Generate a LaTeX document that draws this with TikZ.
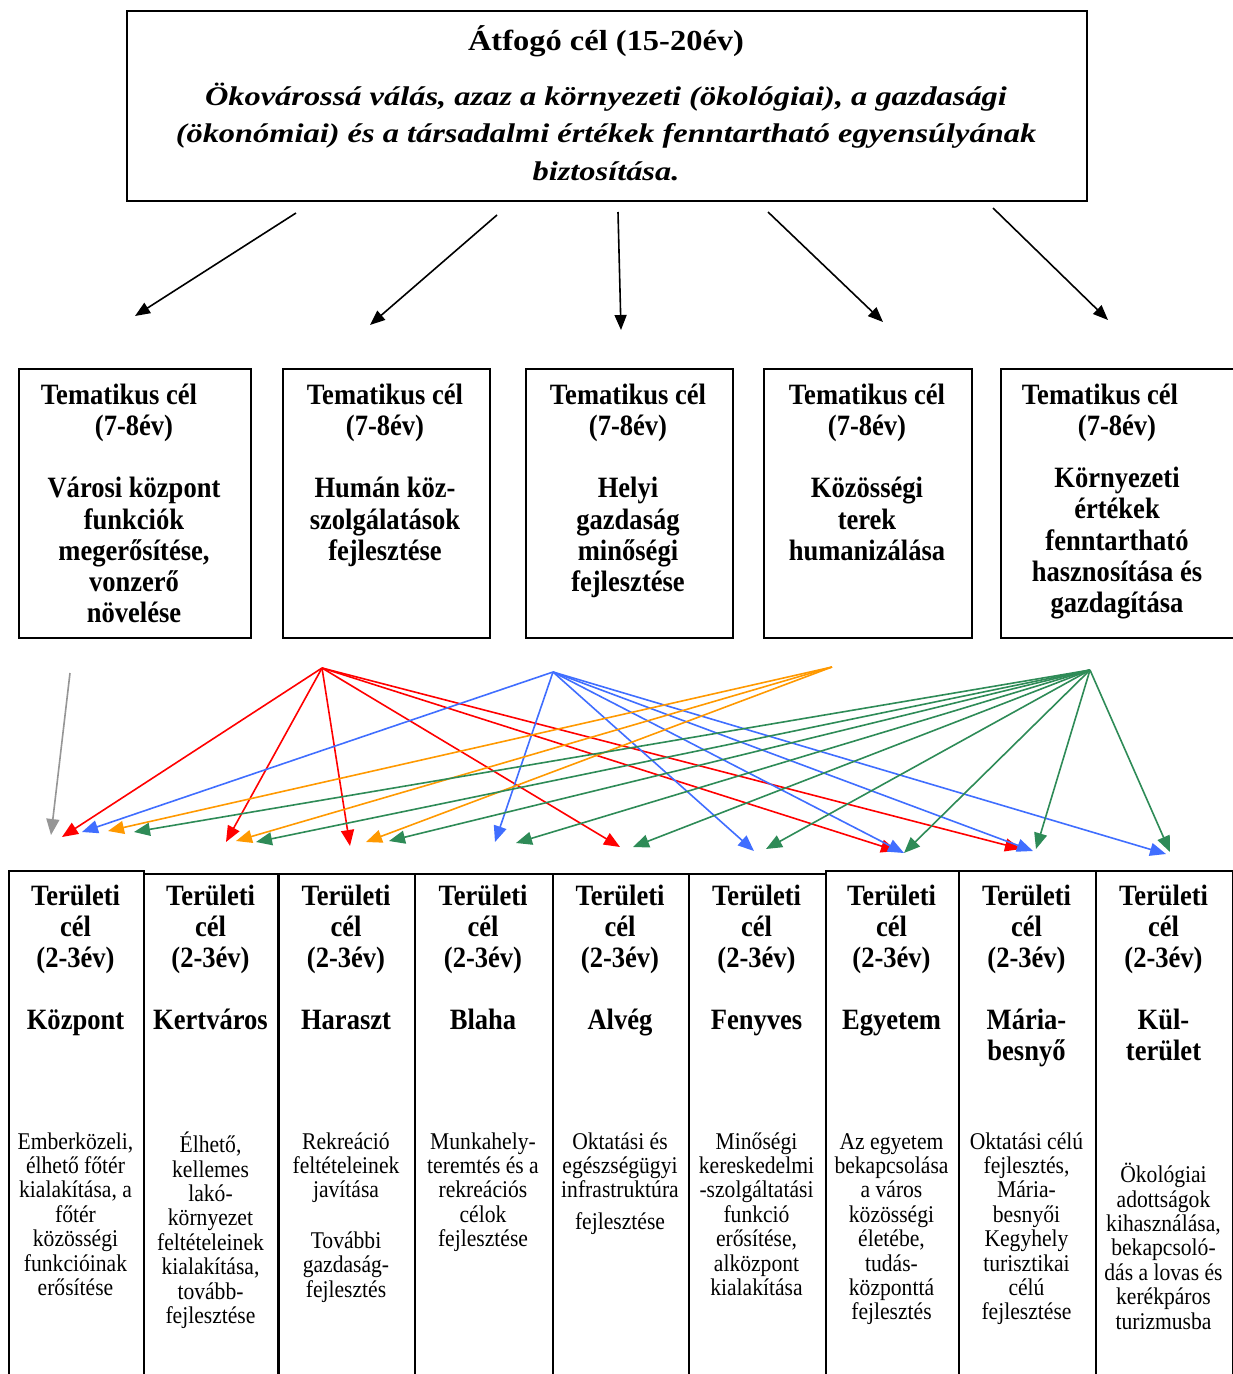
\documentclass[tikz,border=0pt]{standalone}
\usepackage{fontspec}
\setmainfont{Liberation Serif}[FakeStretch=0.9]
\newfontfamily\titlefont{Liberation Serif}[FakeStretch=1.12]
\newfontfamily\aimfont{Liberation Serif}[FakeStretch=1.2]
\usetikzlibrary{arrows.meta}
\definecolor{ared}{RGB}{255,0,0}
\definecolor{ablue}{RGB}{64,110,255}
\definecolor{aorange}{RGB}{255,153,0}
\definecolor{agreen}{RGB}{46,139,87}
\definecolor{agray}{RGB}{150,150,150}
\begin{document}
\begin{tikzpicture}[x=1pt,y=-1pt,
  box/.style={draw,line width=1.6pt,inner sep=0pt,anchor=north west},
  thtext/.style={anchor=north,align=center,inner sep=0pt,font=\fontsize{29.5}{31.2}\selectfont\bfseries},
  hdtext/.style={anchor=north,align=center,inner sep=0pt,font=\fontsize{29.5}{31}\selectfont\bfseries},
  dstext/.style={anchor=north,align=center,inner sep=0pt,font=\fontsize{24}{24.4}\selectfont},
  bigarrow/.style={-{Triangle[length=15pt,width=12pt]},line width=1.6pt,black},
  carrow/.style={-{Triangle[length=16pt,width=13pt]},line width=1.6pt},
]
\useasboundingbox[fill=white] (0,0) rectangle (1233,1374);

% top box
\node[box,minimum width=960pt,minimum height=190pt] (top) at (126,10) {};
\node[anchor=base,inner sep=0pt,font=\titlefont\bfseries\fontsize{29}{35}\selectfont] (title) at (606,50) {Átfogó cél (15-20év)};
\node[anchor=north,align=center,inner sep=0pt,font=\aimfont\bfseries\itshape\fontsize{27}{37.5}\selectfont] (aim) at (606,78.8)
 {\strut Ökovárossá válás, azaz a környezeti (ökológiai), a gazdasági\\(ökonómiai) és a társadalmi értékek fenntartható egyensúlyának\\biztosítása.};

% top arrows
\coordinate (a1s) at (296,213); \coordinate (a1e) at (135,316);
\coordinate (a2s) at (497,215); \coordinate (a2e) at (370,325);
\coordinate (a3s) at (618,212); \coordinate (a3e) at (621,330);
\coordinate (a4s) at (768,212); \coordinate (a4e) at (883,322);
\coordinate (a5s) at (993,208); \coordinate (a5e) at (1108,320);
\foreach \i in {1,...,5} {\draw[bigarrow] (a\i s) -- (a\i e);}

% thematic boxes
\node[box,minimum width=232pt,minimum height=269pt] (t1) at (18,368) {};
\node[box,minimum width=207pt,minimum height=269pt] (t2) at (282,368) {};
\node[box,minimum width=207pt,minimum height=269pt] (t3) at (525,368) {};
\node[box,minimum width=208pt,minimum height=269pt] (t4) at (763,368) {};
\node[box,minimum width=250pt,minimum height=269pt] (t5) at (1000,368) {};

\node[thtext] (tx1) at (134,382.2) {\strut Tematikus cél\rule{30pt}{0pt}\\(7-8év)\\[31.2pt]Városi központ\\funkciók\\megerősítése,\\vonzerő\\növelése};
\node[thtext] (tx2) at (385,382.2) {\strut Tematikus cél\\(7-8év)\\[31.2pt]Humán köz-\\szolgálatások\\fejlesztése};
\node[thtext] (tx3) at (628,382.2) {\strut Tematikus cél\\(7-8év)\\[31.2pt]Helyi\\gazdaság\\minőségi\\fejlesztése};
\node[thtext] (tx4) at (867,382.2) {\strut Tematikus cél\\(7-8év)\\[31.2pt]Közösségi\\terek\\humanizálása};
\node[thtext] (tx5) at (1117,382.2) {\strut Tematikus cél\rule{34pt}{0pt}\\(7-8év)\\[21pt]Környezeti\\értékek\\fenntartható\\hasznosítása és\\gazdagítása};

% bottom boxes
\node[box,minimum width=135pt,minimum height=520pt] (b1) at (8,870) {};
\node[box,minimum width=135pt,minimum height=520pt] (b2) at (143,873) {};
\node[box,minimum width=136pt,minimum height=520pt] (b3) at (278,873) {};
\node[box,minimum width=138pt,minimum height=520pt] (b4) at (414,873) {};
\node[box,minimum width=136pt,minimum height=520pt] (b5) at (552,873) {};
\node[box,minimum width=137pt,minimum height=520pt] (b6) at (688,873) {};
\node[box,minimum width=133pt,minimum height=520pt] (b7) at (825,870) {};
\node[box,minimum width=137pt,minimum height=520pt] (b8) at (958,870) {};
\node[box,minimum width=137pt,minimum height=520pt] (b9) at (1095,870) {};
\draw[line width=3pt] (b3.north west) -- (b3.south west);

\node[hdtext] (h1) at (75.5,883.3) {\strut Területi\\cél\\(2-3év)\\[31pt]Központ};
\node[hdtext] (h2) at (210.5,883.3) {\strut Területi\\cél\\(2-3év)\\[31pt]Kertváros};
\node[hdtext] (h3) at (346,883.3) {\strut Területi\\cél\\(2-3év)\\[31pt]Haraszt};
\node[hdtext] (h4) at (483,883.3) {\strut Területi\\cél\\(2-3év)\\[31pt]Blaha};
\node[hdtext] (h5) at (620,883.3) {\strut Területi\\cél\\(2-3év)\\[31pt]Alvég};
\node[hdtext] (h6) at (756.5,883.3) {\strut Területi\\cél\\(2-3év)\\[31pt]Fenyves};
\node[hdtext] (h7) at (891.5,883.3) {\strut Területi\\cél\\(2-3év)\\[31pt]Egyetem};
\node[hdtext] (h8) at (1026.5,883.3) {\strut Területi\\cél\\(2-3év)\\[31pt]Mária-\\besnyő};
\node[hdtext] (h9) at (1163.5,883.3) {\strut Területi\\cél\\(2-3év)\\[31pt]Kül-\\terület};

\node[dstext] (d1) at (75.5,1131.9) {\strut Emberközeli,\\élhető főtér\\kialakítása, a\\főtér\\közösségi\\funkcióinak\\erősítése};
\node[dstext] (d2) at (210.5,1131.9) {\strut Élhető,\\kellemes\\lakó-\\környezet\\feltételeinek\\kialakítása,\\tovább-\\fejlesztése};
\node[dstext] (d3) at (346,1131.9) {\strut Rekreáció\\feltételeinek\\javítása\\[26pt]További\\gazdaság-\\fejlesztés};
\node[dstext] (d4) at (483,1131.9) {\strut Munkahely-\\teremtés és a\\rekreációs\\célok\\fejlesztése};
\node[dstext] (d5) at (620,1131.9) {\strut Oktatási és\\egészségügyi\\infrastruktúra\\[7pt]fejlesztése};
\node[dstext] (d6) at (756.5,1131.9) {\strut Minőségi\\kereskedelmi\\-szolgáltatási\\funkció\\erősítése,\\alközpont\\kialakítása};
\node[dstext] (d7) at (891.5,1131.9) {\strut Az egyetem\\bekapcsolása\\a város\\közösségi\\életébe,\\tudás-\\központtá\\fejlesztés};
\node[dstext] (d8) at (1026.5,1131.9) {\strut Oktatási célú\\fejlesztés,\\Mária-\\besnyői\\Kegyhely\\turisztikai\\célú\\fejlesztése};
\node[dstext] (d9) at (1163.5,1163) {\strut Ökológiai\\adottságok\\kihasználása,\\bekapcsoló-\\dás a lovas és\\kerékpáros\\turizmusba};

% sources of coloured connectors
\coordinate (sg) at (70,673);
\coordinate (sr) at (322,668);
\coordinate (sb) at (553,672);
\coordinate (so) at (832,667);
\coordinate (sn) at (1090,670);
% targets
\coordinate (gk) at (51,835);
\coordinate (r1) at (62,837); \coordinate (r2) at (226,842); \coordinate (r3) at (350,846);
\coordinate (r5) at (620,847); \coordinate (r7) at (897,851); \coordinate (r8) at (1021,849);
\coordinate (u1) at (82,832); \coordinate (u4) at (495,842); \coordinate (u6) at (754,851);
\coordinate (u7) at (904,853); \coordinate (u8) at (1033,851); \coordinate (u9) at (1166,854);
\coordinate (o1) at (108,831); \coordinate (o2) at (236,841); \coordinate (o3) at (366,842);
\coordinate (g1) at (134,832); \coordinate (g2) at (256,842); \coordinate (g3) at (389,841);
\coordinate (g4) at (516,843); \coordinate (g5) at (633,847); \coordinate (g6) at (766,849);
\coordinate (g7) at (904,853); \coordinate (g8) at (1036,849); \coordinate (g9) at (1170,852);

\draw[carrow,agray] (sg) -- (gk);
\foreach \t in {r1,r2,r3,r5,r7,r8} {\draw[carrow,ared] (sr) -- (\t);}
\foreach \t in {u1,u4,u6,u7,u8,u9} {\draw[carrow,ablue] (sb) -- (\t);}
\foreach \t in {o1,o2,o3} {\draw[carrow,aorange] (so) -- (\t);}
\foreach \t in {g1,g2,g3,g4,g5,g6,g7,g8,g9} {\draw[carrow,agreen] (sn) -- (\t);}
\end{tikzpicture}
\end{document}
